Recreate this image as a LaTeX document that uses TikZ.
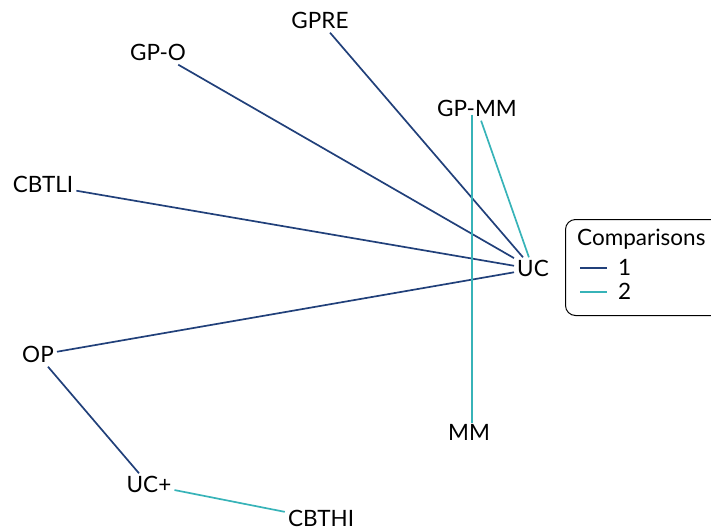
\documentclass[tikz,border=0pt]{standalone}
\usepackage{fontspec}
\setmainfont{Lato}
\definecolor{navyedge}{HTML}{21407A}
\definecolor{tealedge}{HTML}{37B3B8}
\begin{document}
\begin{tikzpicture}[x=1pt,y=-1pt,
  lbl/.style={font=\fontsize{22.5}{26}\selectfont, text height=15pt, text depth=0pt,
              inner xsep=3pt, inner ysep=4pt, anchor=center},
  one/.style={draw=navyedge, line width=1.7pt},
  two/.style={draw=tealedge, line width=1.7pt}]
\useasboundingbox (0,0) rectangle (711,530);

% treatment labels
\node[lbl] (gpre)  at (320,21)  {GPRE};
\node[lbl] (gpo)   at (158,53)  {GP-O};
\node[lbl] (gpmm)  at (477,109) {GP-MM};
\node[lbl] (cbtli) at (43,185)  {CBTLI};
\node[lbl] (uc)    at (533,269) {UC};
\node[lbl] (op)    at (38,355)  {OP};
\node[lbl] (mm)    at (469,433) {MM};
\node[lbl] (ucp)   at (149,485) {UC+};
\node[lbl] (cbthi) at (321,519) {CBTHI};

% comparisons
\draw[one] (gpre) -- (uc);
\draw[one] (gpo) -- (uc);
\draw[one] (cbtli) -- (uc);
\draw[one] (op) -- (uc);
\draw[one] (op) -- (ucp);
\draw[two] (gpmm) -- (uc);
\draw[two] ([xshift=-5pt,yshift=6pt]gpmm.south) -- ([xshift=3pt,yshift=-2pt]mm.north);
\draw[two] (ucp) -- (cbthi);

% legend
\node[draw=black, line width=1pt, rounded corners=10pt, minimum width=160pt,
      minimum height=96pt, anchor=north west] (legend) at (565,219) {};
\node[lbl, anchor=west, inner xsep=0pt] (legtitle) at (577,238) {Comparisons};
\coordinate (l1a) at (580,268);
\coordinate (l1b) at (607,268);
\coordinate (l2a) at (580,292);
\coordinate (l2b) at (607,292);
\draw[one] (l1a) -- (l1b);
\draw[two] (l2a) -- (l2b);
\node[lbl, anchor=west, inner xsep=0pt] (leg1) at (618,268) {1};
\node[lbl, anchor=west, inner xsep=0pt] (leg2) at (618,292) {2};
\end{tikzpicture}
\end{document}
